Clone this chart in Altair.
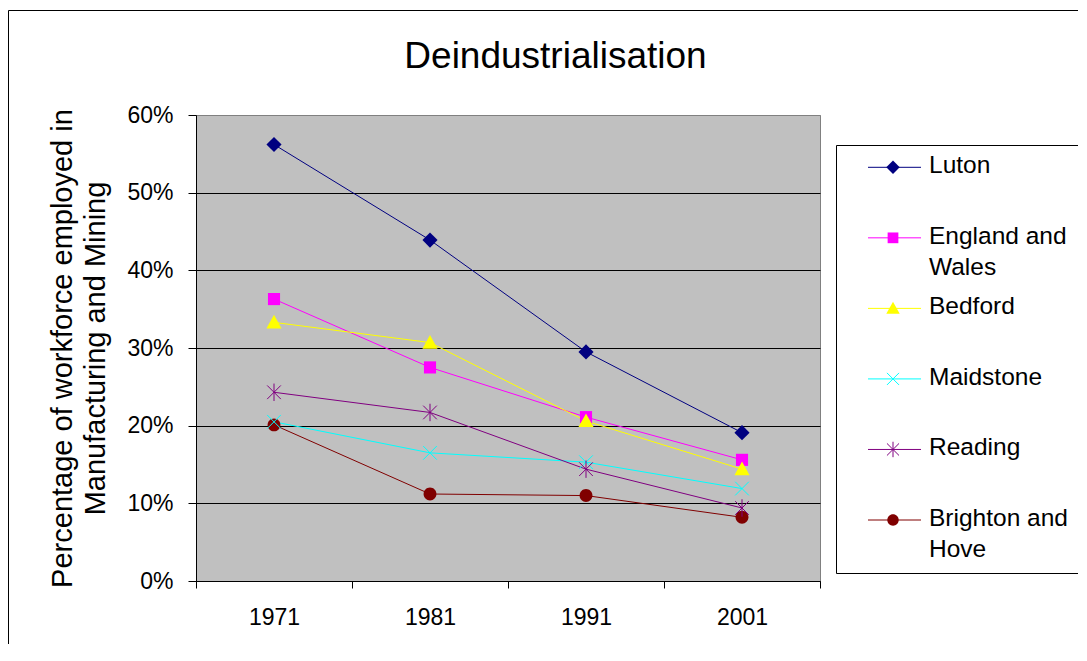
import altair as alt
import pandas as pd

# ---- data ----
series = ["Luton", "England and Wales", "Bedford", "Maidstone", "Reading", "Brighton and Hove"]
legend_labels = ["Luton", "England and\nWales", "Bedford", "Maidstone", "Reading", "Brighton and\nHove"]
years = [1971, 1981, 1991, 2001]
luton = [0.562, 0.439, 0.295, 0.191]
england_wales = [0.363, 0.275, 0.211, 0.156]
bedford = [0.333, 0.307, 0.206, 0.144]
maidstone = [0.205, 0.165, 0.153, 0.119]
reading = [0.243, 0.217, 0.144, 0.094]
brighton = [0.201, 0.112, 0.110, 0.082]
y_ticks = [0, 0.1, 0.2, 0.3, 0.4, 0.5, 0.6]
x_ticks = [1966, 1971, 1976, 1981, 1986, 1991, 1996, 2001, 2006]
title_text = "Deindustrialisation"
y_title = ["Percentage of workforce employed in", "Manufacturing and Mining"]

# ---- styles ----
colors = ["#000080", "#FF00FF", "#FFFF00", "#00FFFF", "#800080", "#800000"]
shapes = [
    "M0,-1L1,0L0,1L-1,0Z",                          # diamond
    "M-0.8,-0.8H0.8V0.8H-0.8Z",                     # square
    "M0,-1L1,0.8H-1Z",                              # triangle
    "M-0.9,-0.9L0.9,0.9M-0.9,0.9L0.9,-0.9",         # x
    "M-0.9,-0.9L0.9,0.9M-0.9,0.9L0.9,-0.9M0,-1.15V1.15",  # asterisk
    "M0.85,0A0.85,0.85 0 1,1 -0.85,0A0.85,0.85 0 1,1 0.85,0Z",  # circle
]
filled_series = ["Luton", "England and Wales", "Bedford", "Brighton and Hove"]
stroke_series = ["Maidstone", "Reading"]
FONT = "Liberation Sans"

values = [luton, england_wales, bedford, maidstone, reading, brighton]
rows = []
for s, vals in zip(series, values):
    for yr, v in zip(years, vals):
        rows.append({"series": s, "year": yr, "value": v})
df = pd.DataFrame(rows)
leg_df = pd.DataFrame({"series": series, "label": legend_labels})
one = pd.DataFrame({"k": [1]})

W, H = 624, 466

x_enc = alt.X(
    "year:Q",
    scale=alt.Scale(domain=[1966, 2006], nice=False, zero=False),
    axis=alt.Axis(
        values=x_ticks, format="d", title=None, grid=False,
        labelExpr="datum.value % 10 == 1 ? datum.label : ''",
        tickOpacity={"condition": {"test": "datum.value % 10 == 6", "value": 1}, "value": 0},
        labelOverlap=False, labelFlush=False, tickSize=7, labelPadding=18,
        labelBaseline="top",
    ),
)
y_enc = alt.Y(
    "value:Q",
    scale=alt.Scale(domain=[0, 0.6], nice=False, zero=True),
    axis=alt.Axis(
        values=y_ticks, format=".0%", grid=True,
        gridColor={"condition": {"test": "datum.value >= 0.55", "value": "#808080"}, "value": "black"},
        tickSize=8, labelPadding=15, labelFlush=False, labelOverlap=False,
        title=y_title, titleFontSize=29, titleLineHeight=33, titlePadding=16,
        titleFontWeight="normal", titleFont=FONT, titleColor="black",
    ),
)
color_enc = alt.Color("series:N", scale=alt.Scale(domain=series, range=colors), legend=None)
shape_enc = alt.Shape("series:N", scale=alt.Scale(domain=series, range=shapes), legend=None)

base = alt.Chart(df)
lines = base.mark_line(strokeWidth=1).encode(x=x_enc, y=y_enc, color=color_enc)
pts_fill = base.transform_filter(
    alt.FieldOneOfPredicate(field="series", oneOf=filled_series)
).mark_point(filled=True, size=230, opacity=1).encode(x=x_enc, y=y_enc, color=color_enc, shape=shape_enc)
pts_stroke = base.transform_filter(
    alt.FieldOneOfPredicate(field="series", oneOf=stroke_series)
).mark_point(filled=False, size=230, opacity=1, strokeWidth=1).encode(x=x_enc, y=y_enc, color=color_enc, shape=shape_enc)

# outer chart frame (left and top edges; the others lie beyond the window)
frame_v = alt.Chart(one).mark_rule(color="black", strokeWidth=1).encode(
    x=alt.value(-187.5), y=alt.value(-104.5), y2=alt.value(560))
frame_h = alt.Chart(one).mark_rule(color="black", strokeWidth=1).encode(
    x=alt.value(-187.5), x2=alt.value(1000), y=alt.value(-104.5))

main = alt.layer(frame_v, frame_h, lines, pts_fill, pts_stroke)

# ---- legend panel built from the series list ----
leg_y = alt.Y("series:N", scale=alt.Scale(type="point", domain=series, range=[52.3, 405], padding=0), axis=None)
box = alt.Chart(one).mark_rect(fill="white", stroke="black", strokeWidth=1).encode(
    x=alt.value(640.5), x2=alt.value(1000), y=alt.value(30.5), y2=alt.value(458.5))
leg_base = alt.Chart(leg_df)
leg_rule = leg_base.mark_rule(strokeWidth=1).encode(x=alt.value(672), x2=alt.value(725), y=leg_y, color=color_enc)
leg_pf = leg_base.transform_filter(
    alt.FieldOneOfPredicate(field="series", oneOf=filled_series)
).mark_point(filled=True, size=180, opacity=1).encode(x=alt.value(697), y=leg_y, color=color_enc, shape=shape_enc)
leg_ps = leg_base.transform_filter(
    alt.FieldOneOfPredicate(field="series", oneOf=stroke_series)
).mark_point(filled=False, size=180, opacity=1, strokeWidth=1).encode(x=alt.value(697), y=leg_y, color=color_enc, shape=shape_enc)
leg_text = leg_base.mark_text(
    align="left", baseline="alphabetic", dy=6, fontSize=24.5, lineHeight=31,
    lineBreak="\n", color="black", font=FONT,
).encode(x=alt.value(733), y=leg_y, text="label:N")

legend = alt.layer(box, leg_rule, leg_pf, leg_ps, leg_text)

chart = alt.layer(main, legend).resolve_scale(y="independent").properties(
    width=W, height=H,
    title=alt.TitleParams(title_text, fontSize=37, font=FONT, fontWeight="normal", color="black",
                          frame="group", anchor="middle", dx=47.5, offset=-66),
    autosize=alt.AutoSizeParams(type="none"),
    padding={"left": 188, "top": 107, "right": 258, "bottom": 63},
).configure(font=FONT, background="white").configure_view(
    fill="#C0C0C0", stroke="#808080", strokeWidth=1
).configure_axis(
    labelFont=FONT, labelFontSize=23, labelColor="black",
    domainColor="black", tickColor="black", domainWidth=1, tickWidth=1,
)

chart.save("out.html", embed_options={"renderer": "svg", "actions": False})
